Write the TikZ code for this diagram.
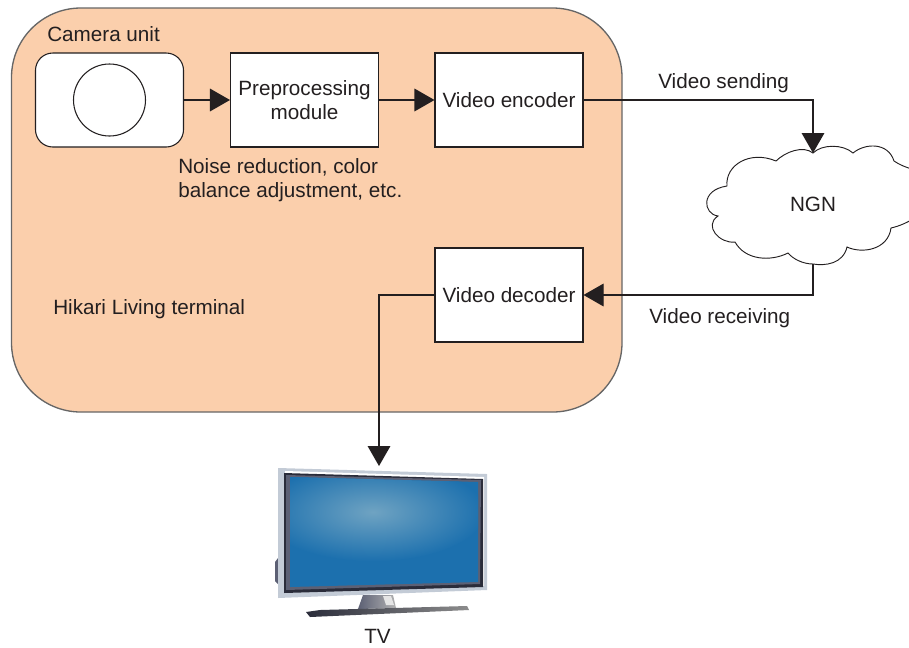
\documentclass[tikz,border=0pt]{standalone}
\usepackage{fontspec}
\setmainfont{Liberation Sans}
\usetikzlibrary{arrows.meta,positioning}
\definecolor{unitfill}{HTML}{FBCFAC}
\definecolor{inktext}{HTML}{231F20}
\definecolor{screenblue}{HTML}{1C70AE}
\definecolor{glowblue}{HTML}{6FA3C2}
\definecolor{tvsilver}{HTML}{C3CBD6}
\definecolor{tvband}{HTML}{5C6074}
\definecolor{tvdark}{HTML}{2A2C3A}
\tikzset{
	label/.style={inner sep=0pt, text=inktext, font=\fontsize{15.5}{18}\selectfont},
	module/.style={draw=inktext, line width=0.8pt, fill=white, minimum width=111pt, minimum height=70.5pt, inner sep=0pt, align=center, text=inktext, font=\fontsize{15.5}{17.8}\selectfont},
	link/.style={draw=inktext, line width=0.8pt, -{Triangle[length=15pt, width=17pt]}},
}
\begin{document}
\begin{tikzpicture}[x=0.75pt, y=-0.75pt]
	\useasboundingbox (0, 0) rectangle (909, 647);
	%%%%% TERMINAL %%%%%
	\draw[draw=black!60, line width=1pt, fill=unitfill, rounded corners=52pt] (11.5, 8) rectangle (622, 412);
	\node[label, anchor=west] (cameralabel) at (47, 34) {Camera unit};
	\node[label, anchor=west] (terminallabel) at (53, 309) {Hikari Living terminal};

	%%%%% MODULES %%%%%
	\node[module, rounded corners=13pt] (camera) at (109.5, 100) {};
	\draw[draw=inktext, line width=0.8pt, fill=white] (camera.center) circle (27pt);
	\node[module] (preprocess) at (304.5, 100) {Preprocessing\\module};
	\node[module] (encoder) at (509, 100) {Video encoder};
	\node[module] (decoder) at (509, 295) {Video decoder};
	\node[label, anchor=north west, align=left] (noiselabel) at (178, 158.5) {Noise reduction, color\\balance adjustment, etc.};

	%%%%% CLOUD %%%%%
	\begin{scope}
		\clip (0, 0) rectangle (909, 647);
		\draw[draw=inktext, line width=0.7pt, fill=white]
			(776, 161) .. controls (785, 152) and (803, 145) .. (813, 153)
			.. controls (822, 144) and (843, 144) .. (853, 153)
			.. controls (865, 143) and (888, 142) .. (894, 161)
			.. controls (900, 165) and (905, 167) .. (915, 170)
			-- (915, 218)
			.. controls (908, 222) and (900, 226) .. (891, 228)
			.. controls (888, 250) and (862, 254) .. (847, 247)
			.. controls (843, 264) and (825, 266) .. (813, 264)
			.. controls (803, 264) and (793, 259) .. (788, 253)
			.. controls (770, 262) and (745, 260) .. (735, 242)
			.. controls (720, 244) and (703, 226) .. (718, 216)
			.. controls (703, 214) and (700, 190) .. (727, 186)
			.. controls (725, 165) and (750, 150) .. (776, 161) -- cycle;
	\end{scope}
	\node[label] (ngn) at (813, 204) {NGN};
	\coordinate (cloudtop) at (813, 153);
	\coordinate (cloudbottom) at (813, 264);

	%%%%% TV %%%%%
	\fill[tvband] (275, 562) -- (278, 558) -- (278, 584) -- (275, 581) -- cycle;
	\shade[left color=tvband, right color=black!30] (363, 595) -- (393, 595) -- (396, 608) -- (358, 609) -- cycle;
	\fill[white!90!black] (383, 596) -- (391, 596) -- (394, 605) -- (386, 605) -- cycle;
	\shade[left color=tvdark, right color=black!45] (306, 612) -- (320, 610) -- (467, 606) -- (469, 610) -- (310, 617) -- cycle;
	\fill[tvsilver] (278, 468) -- (487, 474) -- (487, 590) -- (278, 598) -- cycle;
	\fill[white] (285, 471) -- (484, 477) -- (484, 586) -- (285, 592) -- cycle;
	\fill[tvdark] (284, 473) -- (483, 479) -- (483, 587) -- (284, 593) -- cycle;
	\fill[tvband] (286, 475) -- (481, 480) -- (480, 584) -- (286, 590) -- cycle;
	\begin{scope}
		\clip (290, 477) -- (478, 482) -- (478, 582) -- (290, 587) -- cycle;
		\fill[screenblue] (285, 470) rectangle (485, 590);
		\shade[inner color=glowblue, outer color=screenblue, draw=none] (373, 512) ellipse (84pt and 37pt);
	\end{scope}
	\coordinate (tvtop) at (379, 466);
	\node[label] (tvlabel) at (377.5, 636) {TV};

	%%%%% LINKS %%%%%
	\draw[link] (camera.east) -- (preprocess.west);
	\draw[link] (preprocess.east) -- (encoder.west);
	\draw[link] (encoder.east) -| (cloudtop);
	\draw[link] (cloudbottom) |- (decoder.east);
	\draw[link] (decoder.west) -| (tvtop);
	\node[label, anchor=west] (sendinglabel) at (658, 83.5) {Video sending};
	\node[label, anchor=west] (receivinglabel) at (649, 318.5) {Video receiving};
\end{tikzpicture}
\end{document}
